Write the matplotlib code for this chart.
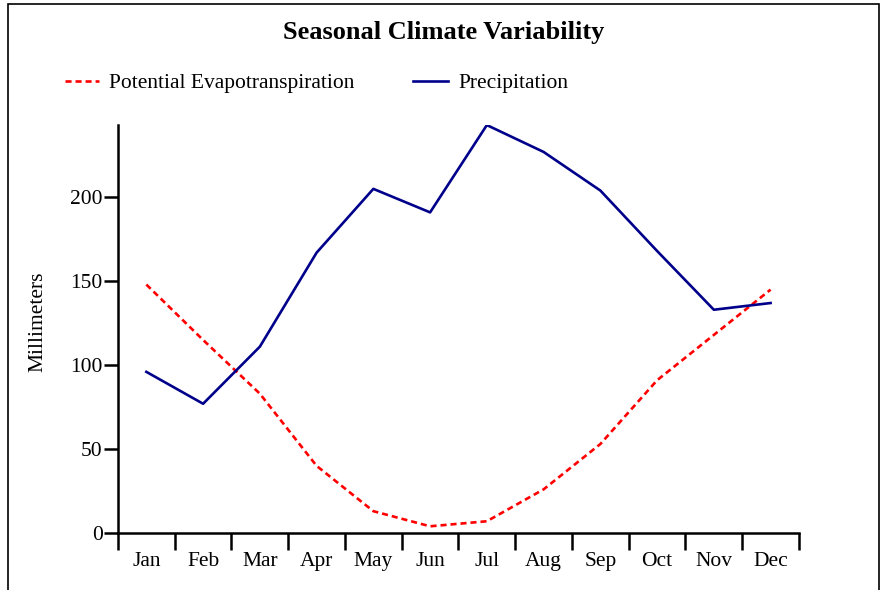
import matplotlib.pyplot as plt
from matplotlib.patches import Rectangle
from matplotlib.ticker import FixedLocator, NullFormatter

plt.rcParams['font.family'] = ['Liberation Serif', 'DejaVu Serif']

# Data
months = ['Jan', 'Feb', 'Mar', 'Apr', 'May', 'Jun',
          'Jul', 'Aug', 'Sep', 'Oct', 'Nov', 'Dec']
pet = [148, 115, 83, 40, 13, 4, 7, 26, 53, 91, 118, 145]
precip = [96, 77, 111, 167, 205, 191, 243, 227, 204, 168, 133, 137]

fig = plt.figure(figsize=(8.85, 5.9), dpi=100)
ax = fig.add_axes([0.1333, 0.0966, 0.7695, 0.6914])

x = list(range(len(months)))
ax.plot(x, pet, color='#ff0000', linewidth=1.9, linestyle=(0, (2.3, 1.5)),
        label='Potential Evapotranspiration')
ax.plot(x, precip, color='#00008b', linewidth=1.9, label='Precipitation')

ax.set_xlim(-0.5, len(months) - 0.5)
ax.set_ylim(0, max(precip))

# month labels centred, tick marks on category edges
ax.set_xticks(x)
ax.set_xticklabels(months)
ax.tick_params(axis='x', which='major', length=0, pad=14, labelsize=15.5)
ax.xaxis.set_minor_locator(FixedLocator([i - 0.5 for i in range(len(months) + 1)]))
ax.xaxis.set_minor_formatter(NullFormatter())
ax.tick_params(axis='x', which='minor', length=12, width=1.8, direction='out')

ax.set_yticks([0, 50, 100, 150, 200])
ax.tick_params(axis='y', length=10, width=1.8, pad=1, labelsize=15.5)

for s in ['top', 'right']:
    ax.spines[s].set_visible(False)
for s in ['left', 'bottom']:
    ax.spines[s].set_linewidth(1.8)

ax.set_ylabel('Millimeters', fontsize=15.5)
ax.yaxis.set_label_coords(-0.104, 0.517)

fig.text(0.501, 0.945, 'Seasonal Climate Variability', ha='center', va='center',
         fontsize=19, fontweight='bold')

fig.legend(loc='center left', bbox_to_anchor=(0.051, 0.859), ncol=2,
           frameon=False, fontsize=15.5, handlelength=1.6, handletextpad=0.47,
           columnspacing=2.74)

# outer border
fig.patches.append(Rectangle((8 / 885, -0.01), 871 / 885, 1 - 4 / 590 + 0.01,
                             transform=fig.transFigure, fill=False,
                             edgecolor='black', linewidth=1.2))

fig.savefig('out.png', dpi=100)
